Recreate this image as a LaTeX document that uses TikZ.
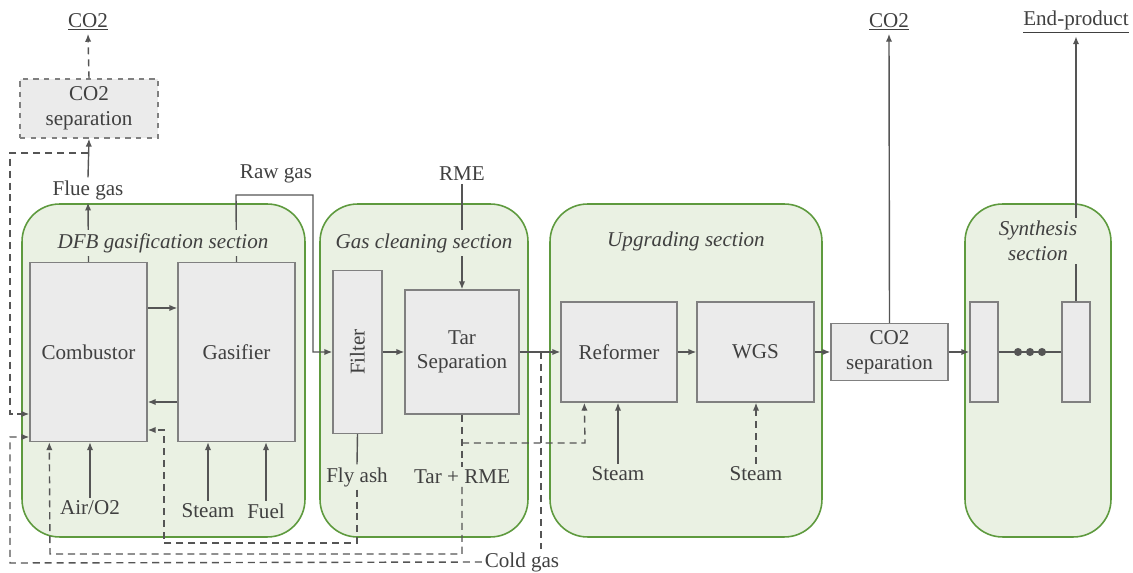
\documentclass[tikz,border=0pt]{standalone}
\usepackage{fontspec}
\setmainfont{Liberation Serif}
\usepackage{graphicx}
\usetikzlibrary{arrows.meta,calc}
\definecolor{secfill}{HTML}{EAF1E3}
\definecolor{secline}{HTML}{5E9A3E}
\definecolor{boxfill}{HTML}{EBEBEB}
\definecolor{boxline}{HTML}{808080}
\definecolor{ink}{HTML}{404040}
\definecolor{wire}{HTML}{555555}
\tikzset{
  section/.style={draw=secline, fill=secfill, line width=0.9pt, rounded corners=0.75cm, minimum height=6.66cm},
  sectitle/.style={fill=secfill, font=\fontsize{12}{14}\selectfont\itshape, align=center, inner sep=2pt},
  unit/.style={draw=boxline, fill=boxfill, line width=0.8pt, align=center},
  lbl/.style={inner sep=1.5pt, align=center},
  arr/.style={draw=wire, line width=0.8pt, -{Latex[length=4.5pt,width=3.6pt]}},
  darr/.style={arr, dash pattern=on 4pt off 2.8pt},
  ln/.style={draw=wire, line width=0.8pt},
  dln/.style={ln, dash pattern=on 4pt off 2.8pt}
}
\begin{document}
\begin{tikzpicture}[x=0.02cm, y=-0.02cm,
    every node/.style={font=\fontsize{12}{14}\selectfont, text=ink}]
  \useasboundingbox (0,0) rectangle (1133,573);
  \node[section, minimum width=5.66cm] (dfb) at (163.5,370.5) {};
  \node[section, minimum width=4.16cm] (clean) at (424,370.5) {};
  \node[section, minimum width=5.44cm] (upg) at (686,370.5) {};
  \node[section, minimum width=2.92cm] (syn) at (1038,370.5) {};

  \node[unit, minimum width=2.34cm, minimum height=3.58cm] (comb) at (88.5,352) {Combustor};
  \node[unit, minimum width=2.34cm, minimum height=3.58cm] (gasif) at (236.5,352) {Gasifier};
  \node[unit, minimum width=0.98cm, minimum height=3.26cm] (filter) at (357.5,352) {\rotatebox{90}{Filter}};
  \node[unit, minimum width=2.28cm, minimum height=2.48cm] (tarsep) at (462,352) {Tar\\Separation};
  \node[unit, minimum width=2.32cm, minimum height=2.0cm] (reform) at (619,352) {Reformer};
  \node[unit, minimum width=2.34cm, minimum height=2.0cm] (wgs) at (755.5,352) {WGS};
  \node[unit, minimum width=2.34cm, minimum height=1.14cm] (co2sep) at (889.5,352) {CO2\\separation};
  \node[unit, minimum width=0.56cm, minimum height=2.0cm] (synA) at (984,352) {};
  \node[unit, minimum width=0.56cm, minimum height=2.0cm] (synB) at (1076,352) {};
  \node[unit, dashed, minimum width=2.76cm, minimum height=1.18cm] (fgsep) at (89,108.5) {CO2\\separation};

  \node[lbl] (co2a) at (88,22) {\underline{CO2}};
  \node[lbl] (flue) at (88,190) {Flue gas};
  \node[lbl] (raw) at (276,174) {Raw gas};
  \node[lbl] (rme) at (462,174) {RME};
  \node[lbl] (air) at (90,508) {Air/O2};
  \node[lbl] (stgas) at (208,511) {Steam};
  \node[lbl] (fuel) at (266,511) {Fuel};
  \node[lbl] (flyash) at (357,477) {Fly ash};
  \node[lbl] (tarrme) at (462,477) {Tar + RME};
  \node[lbl] (stref) at (618,474) {Steam};
  \node[lbl] (stwgs) at (756,474) {Steam};
  \node[lbl] (cold) at (522,562) {Cold gas};
  \node[lbl] (co2b) at (889,22) {\underline{CO2}};
  \node[lbl] (endp) at (1076,22) {\underline{End-product}};

  \coordinate (fg) at (88,153);
  \coordinate (tr) at (462,443);
  \coordinate (cg) at (541,352);

  \begin{scope}[arr]
    \draw (comb.north) to (flue.south);
    \draw (flue.north) to (fgsep.south);
    \draw (gasif.north) -- (236,195) -- (313,195) -- (313,352) -- (filter.west);
    \draw ($(comb.east)+(0,-44)$) to ($(gasif.west)+(0,-44)$);
    \draw ($(gasif.west)+(0,50)$) to ($(comb.east)+(0,50)$);
    \draw (air.north) to (air.north |- comb.south);
    \draw (stgas.north) to (stgas.north |- gasif.south);
    \draw (fuel.north) to (fuel.north |- gasif.south);
    \draw (filter.east) to (tarsep.west);
    \draw (rme.south) to (tarsep.north);
    \draw (tarsep.east) to (reform.west);
    \draw (reform.east) to (wgs.west);
    \draw (wgs.east) to (co2sep.west);
    \draw (co2sep.east) to (synA.west);
    \draw (stref.north) to (stref.north |- reform.south);
    \draw (co2sep.north) to (co2b.south);
    \draw (synB.north) to (endp.south);
  \end{scope}
  \begin{scope}[darr]
    \draw (fgsep.north) to (co2a.south);
    \draw (fg) -- (10,153) -- (10,414) -- ($(comb.west)+(0,62)$);
    \draw (cold.west) -- (10,563) -- (10,437) -- ($(comb.west)+(0,85)$);
    \draw (flyash.south) -- (357,543) -- (164,543) -- (164,430) -- ($(comb.east)+(0,78)$);
    \draw (tarrme.south) -- (462,554) -- (50,554) -- ($(comb.south west)+(20,0)$);
    \draw (tr) -- (585,443) -- ($(reform.south west)+(24,0)$);
    \draw (stwgs.north) to (stwgs.north |- wgs.south);
  \end{scope}
  \draw[ln] (filter.south) to (flyash.north);
  \draw[ln] (synA.east) to (synB.west);
  \draw[dln] (tarsep.south) to (tarrme.north);
  \draw[dln] (cg) to (cg |- cold.north);
  \foreach \x in {1018,1030,1042}
    \fill[wire] (\x,352) circle (2.3pt);

  \node[sectitle] (dfbt) at (163,243) {DFB gasification section};
  \node[sectitle] (cleant) at (424,243) {Gas cleaning section};
  \node[sectitle] (upgt) at (686,241) {Upgrading section};
  \node[sectitle] (synt) at (1038,241) {Synthesis\\section};
\end{tikzpicture}
\end{document}
